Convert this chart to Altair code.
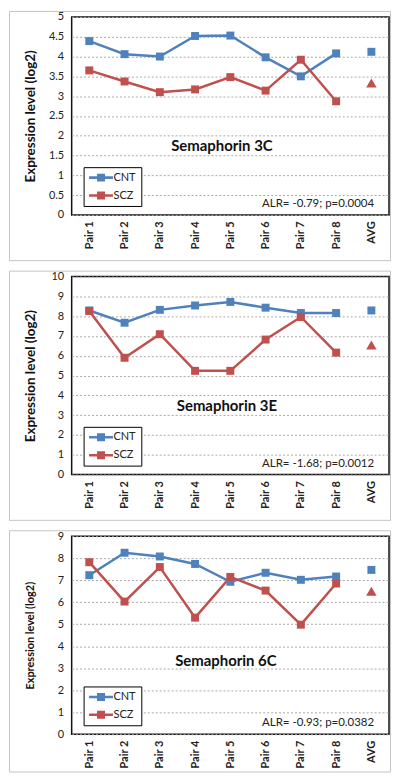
import altair as alt
import pandas as pd

categories = ["Pair 1", "Pair 2", "Pair 3", "Pair 4", "Pair 5", "Pair 6", "Pair 7", "Pair 8", "AVG"]
series_names = ["CNT", "SCZ"]
colors = ["#4F81BD", "#C0504D"]

cnt_3c = [4.39, 4.06, 4.00, 4.52, 4.53, 3.98, 3.50, 4.08]
scz_3c = [3.65, 3.37, 3.10, 3.17, 3.48, 3.14, 3.92, 2.87]
avg_3c = [4.12, 3.33]

cnt_3e = [8.29, 7.67, 8.32, 8.54, 8.72, 8.43, 8.16, 8.16]
scz_3e = [8.26, 5.90, 7.09, 5.24, 5.24, 6.82, 7.96, 6.16]
avg_3e = [8.29, 6.55]

cnt_6c = [7.23, 8.25, 8.08, 7.74, 6.93, 7.34, 7.02, 7.17]
scz_6c = [7.82, 6.03, 7.60, 5.30, 7.15, 6.53, 4.98, 6.85]
avg_6c = [7.47, 6.50]

titles = ["Semaphorin 3C", "Semaphorin 3E", "Semaphorin 6C"]
stats = ["ALR= -0.79; p=0.0004", "ALR= -1.68; p=0.0012", "ALR= -0.93; p=0.0382"]
y_ticks_3c = [0, 0.5, 1, 1.5, 2, 2.5, 3, 3.5, 4, 4.5, 5]
y_ticks_3e = list(range(0, 11))
y_ticks_6c = list(range(0, 10))
y_title = "Expression level (log2)"

FONT = "Lato"
W, H = 319, 199

legend_symbol = "M-3,-0.32H3V0.32H-3Z M-1,-1H1V1H-1Z"


def panel(cnt, scz, avg, ticks, title, stat, ytitle_size, box, title_pos):
    line_rows, pt_rows = [], []
    for i, cat in enumerate(categories[:8]):
        for s, vals in zip(series_names, [cnt, scz]):
            line_rows.append({"cat": cat, "series": s, "value": vals[i]})
            pt_rows.append({"cat": cat, "series": s, "value": vals[i], "marker": "square"})
    pt_rows.append({"cat": "AVG", "series": "CNT", "value": avg[0], "marker": "square"})
    pt_rows.append({"cat": "AVG", "series": "SCZ", "value": avg[1], "marker": "triangle-up"})
    lines = pd.DataFrame(line_rows)
    pts = pd.DataFrame(pt_rows)

    x = alt.X("cat:N", sort=categories,
              scale=alt.Scale(domain=categories, type="point", padding=0.5),
              axis=alt.Axis(title=None, labelAngle=270, labelFont=FONT, labelFontSize=11,
                            labelFontWeight="bold", labelColor="#222", labelPadding=6,
                            ticks=False, domain=False, grid=False))
    y = alt.Y("value:Q", scale=alt.Scale(domain=[ticks[0], ticks[-1]], nice=False, zero=True),
              axis=alt.Axis(values=ticks, format="~r", title=y_title, titleFont=FONT,
                            titleFontSize=ytitle_size, titleFontWeight="bold", titleColor="#111",
                            titleX=-41, titleY=H / 2, titleAngle=270, titleAlign="center",
                            titleBaseline="middle",
                            labelFont=FONT, labelFontSize=11, labelColor="#222", labelPadding=8,
                            ticks=False, domain=False, grid=True, gridDash=[2, 2],
                            gridColor="#A8A8A8", gridWidth=1))
    color = alt.Color("series:N", scale=alt.Scale(domain=series_names, range=colors),
                      legend=alt.Legend(title=None, orient="none", legendX=12, legendY=151,
                                        symbolType=legend_symbol, symbolSize=64,
                                        symbolStrokeWidth=0, symbolOffset=7,
                                        labelFont=FONT, labelFontSize=11, labelColor="#222",
                                        labelOffset=7, rowPadding=6, padding=5,
                                        strokeColor="#000", fillColor="#fff"))

    frame = alt.Chart(alt.Data(values=[{}])).mark_rect(
        fillOpacity=0, stroke="#C4C4C4", strokeWidth=1
    ).encode(x=alt.value(box[0]), x2=alt.value(box[1]), y=alt.value(box[2]), y2=alt.value(box[3]))

    line_layer = alt.Chart(lines).mark_line(strokeWidth=2.5).encode(x=x, y=y, color=color)
    point_layer = alt.Chart(pts).mark_point(filled=True, opacity=1).encode(
        x=x, y=y, color=color,
        shape=alt.Shape("marker:N", scale=alt.Scale(domain=["square", "triangle-up"],
                                                    range=["square", "triangle-up"]), legend=None),
        size=alt.Size("marker:N", scale=alt.Scale(domain=["square", "triangle-up"],
                                                  range=[64, 110]), legend=None),
    )
    title_layer = alt.Chart(alt.Data(values=[{}])).mark_text(
        font=FONT, fontSize=15, fontWeight="bold", color="#111", align="center", baseline="middle"
    ).encode(x=alt.value(title_pos[0]), y=alt.value(title_pos[1]), text=alt.value(title))
    stat_layer = alt.Chart(alt.Data(values=[{}])).mark_text(
        font=FONT, fontSize=11.5, color="#222", align="right", baseline="middle"
    ).encode(x=alt.value(304), y=alt.value(188), text=alt.value(stat))

    return alt.layer(frame, line_layer, point_layer, title_layer, stat_layer).properties(width=W, height=H)


p1 = panel(cnt_3c, scz_3c, avg_3c, y_ticks_3c, titles[0], stats[0], 13.5, (-62.5, 320.5, -5.5, 245), (151, 130))
p2 = panel(cnt_3e, scz_3e, avg_3e, y_ticks_3e, titles[1], stats[1], 13.5, (-62.5, 320.5, -5.5, 245), (156, 130))
p3 = panel(cnt_6c, scz_6c, avg_6c, y_ticks_6c, titles[2], stats[2], 11, (-62.5, 320.5, -5.5, 237), (155, 125))

chart = alt.vconcat(p1, p2, p3, spacing=7).resolve_scale(
    color="independent", shape="independent", size="independent"
).resolve_legend(color="independent").properties(padding=0).configure_view(
    stroke="#111", strokeWidth=1.5
)

chart.save("out.html", embed_options={"renderer": "svg", "actions": False})
